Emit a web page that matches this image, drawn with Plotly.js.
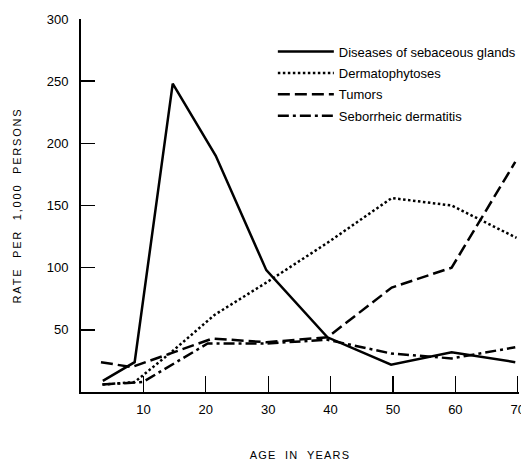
<!DOCTYPE html>
<html>
<head>
<meta charset="utf-8">
<script src="https://cdn.plot.ly/plotly-3.0.1.min.js"></script>
<style>
  html, body { margin: 0; padding: 0; background: #fff; }
  #chart { width: 521px; height: 462px; }
  .g-xtitle text { letter-spacing: 1.2px; }
  .g-ytitle text { letter-spacing: 1.8px; }
</style>
</head>
<body>
<div id="chart"></div>
<script>
// Age (years) at which each rate was recorded, per condition
const sebaceousAge   = [3.5, 8.6, 14.7, 21.6, 29.7, 39.5, 49.7, 59.4, 69.6];
const sebaceousRate  = [9, 24, 248, 190, 98, 44, 22, 32, 24];

const dermatoAge     = [3.5, 8.6, 14.7, 21.4, 29.7, 39.5, 49.8, 59.4, 69.8];
const dermatoRate    = [6, 8, 33, 62, 88, 120, 156, 150, 124];

const tumorAge       = [3.2, 8.1, 21.1, 29.7, 39.5, 49.8, 59.4, 69.6];
const tumorRate      = [24, 20, 43, 40, 44, 84, 100, 185];

const seborrheicAge  = [3.4, 9.9, 20.3, 29.7, 39.5, 49.7, 59.4, 69.6];
const seborrheicRate = [6, 8, 39, 39, 42, 31, 27, 36];

const seriesNames = [
  "Diseases of sebaceous glands",
  "Dermatophytoses",
  "Tumors",
  "Seborrheic dermatitis"
];

const xTicks = [10, 20, 30, 40, 50, 60, 70];
const yTicks = [50, 100, 150, 200, 250, 300];

const FONT = "Liberation Sans, Arial, Helvetica, sans-serif";

function line(x, y, name, dash, group) {
  return {
    x: x, y: y, name: name, type: "scatter", mode: "lines",
    legendgroup: group,
    line: { color: "#000", width: 2.5, dash: dash },
    hoverinfo: "skip"
  };
}

const traces = [
  line(sebaceousAge, sebaceousRate, seriesNames[0], "solid", "g1"),
  line(dermatoAge, dermatoRate, seriesNames[1], "2.5px,2.5px", "g2"),
  line(tumorAge, tumorRate, seriesNames[2], "12px,5px", "g3"),
  line(seborrheicAge, seborrheicRate, seriesNames[3], "11px,4px,3px,4px", "g4")
];

const layout = {
  width: 521, height: 462,
  margin: { l: 81, r: 0, t: 19, b: 70 },
  paper_bgcolor: "#fff", plot_bgcolor: "#fff",
  font: { family: FONT, color: "#000", size: 12 },
  showlegend: true,
  legend: {
    x: 0.438, y: 0.953, xanchor: "left", yanchor: "top",
    bgcolor: "rgba(0,0,0,0)",
    font: { family: FONT, size: 13, color: "#000" },
    itemwidth: 56,
    tracegroupgap: 1.5
  },
  xaxis: {
    range: [0, 70.2],
    tickvals: xTicks, ticktext: xTicks.map(String),
    ticks: "inside", ticklen: 16, tickwidth: 1.2, tickcolor: "#000",
    ticklabelstandoff: 4, ticklabeloverflow: "allow",
    showline: true, linewidth: 2, linecolor: "#000",
    showgrid: false, zeroline: false,
    tickfont: { family: FONT, size: 13, color: "#000" },
    title: { text: "AGE\u00a0\u00a0IN\u00a0\u00a0YEARS", font: { family: FONT, size: 11, color: "#000" }, standoff: 36 }
  },
  yaxis: {
    range: [0, 300],
    tickvals: yTicks, ticktext: yTicks.map(String),
    ticks: "inside", ticklen: 14, tickwidth: 1.5, tickcolor: "#000",
    ticklabelstandoff: 8,
    showline: true, linewidth: 2, linecolor: "#000",
    showgrid: false, zeroline: false,
    tickfont: { family: FONT, size: 13, color: "#000" },
    title: { text: "RATE\u00a0\u00a0PER\u00a0\u00a01,000\u00a0\u00a0PERSONS", font: { family: FONT, size: 11, color: "#000" }, standoff: 23 }
  }
};

Plotly.newPlot("chart", traces, layout, { staticPlot: true, displayModeBar: false });
</script>
</body>
</html>
